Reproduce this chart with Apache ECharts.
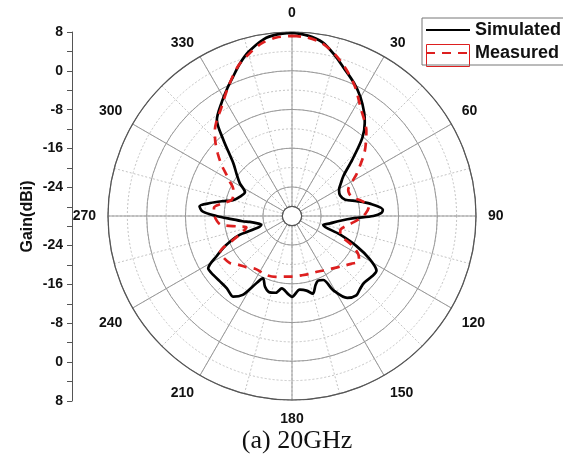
<!DOCTYPE html>
<html><head><meta charset="utf-8">
<script src="https://cdn.jsdelivr.net/npm/echarts@6/dist/echarts.min.js"></script>
<style>html,body{margin:0;padding:0;background:#fff}#c{width:563px;height:457px}</style>
</head><body><div id="c"></div>
<script>
// ---- data (angle in degrees, gain in dBi) ----
const simAngles = [0,5,10,15,19,25,30,35,38,42,47,52,56,61,67,73,77,81,86,88,90,92,96,101,106,111,115,119,123,127,133,137,141,146,151,154,158,161,165,169,174,180,183,188,192,197,201,205,209,212,216,222,228,233,238,242,246,250,254,258,262,264,267,270,273,276,279,282,285,290,297,302,307,312,318,322,328,333,337,341,345,351,355,360];
const simGain   = [7.8,7.4,6.4,4.3,2.5,0.3,-1.7,-4.0,-5.6,-8.3,-13.0,-16.5,-17.8,-18.9,-19.2,-18.5,-16.3,-13.7,-11.2,-11.5,-13.2,-17.2,-20.2,-22.0,-23.3,-19.5,-15.3,-11.7,-9.2,-9.3,-9.7,-9.4,-8.9,-9.6,-12.5,-15.3,-15.6,-15.0,-13.4,-14.3,-14.7,-13.3,-13.9,-14.9,-13.8,-13.6,-14.4,-15.8,-13.4,-10.8,-9.4,-9.9,-9.9,-9.7,-9.6,-12.4,-15.0,-18.2,-23.4,-22.7,-21.2,-19.7,-17.5,-14.4,-11.5,-10.8,-12.9,-15.3,-17.4,-18.5,-19.1,-17.3,-15.7,-13.7,-8.8,-4.8,-2.5,-0.5,1.2,3.2,5.0,7.0,7.6,7.8];
const measAngles = [0,5,10,15,20,26,33,37,41,45,49,53,57,61,65,69,73,78,83,88,92,96,101,106,110,116,120,124,129,136,143,150,156,163,171,180,187,195,203,210,215,222,228,233,238,243,248,252,256,259,263,266,270,276,280,285,290,295,299,302,306,310,314,318,322,326,333,340,345,350,355,360];
const measGain   = [7.2,7.0,6.2,4.5,2.4,-0.3,-3.8,-5.2,-6.6,-8.4,-10.2,-12.3,-14.1,-16.0,-17.2,-17.3,-16.9,-15.2,-14.0,-14.8,-15.9,-17.3,-18.8,-19.6,-19.4,-16.3,-14.2,-13.3,-14.3,-15.5,-16.4,-17.0,-17.4,-17.5,-17.6,-17.5,-17.4,-17.0,-16.7,-16.8,-16.7,-15.8,-15.0,-13.9,-13.5,-13.3,-17.0,-19.3,-20.3,-18.7,-15.2,-14.5,-14.0,-13.8,-15.3,-17.1,-17.1,-16.6,-15.3,-14.1,-12.0,-10.0,-8.0,-6.2,-4.8,-3.6,-0.6,2.8,4.6,6.2,7.0,7.2];
const angleTickLabels = [0,30,60,90,120,150,180,210,240,270,300,330];
const gainTickLabels = [8,0,-8,-16,-24];
const seriesNames = ['Simulated','Measured'];
const caption = '(a) 20GHz';
const gainMin = -28, gainMax = 8;

const simData = simAngles.map((a,i)=>[simGain[i], a]);
const measData = measAngles.map((a,i)=>[measGain[i], a]);

const FONT = 'Liberation Sans, Arial, sans-serif';
const center = [292, 216];
const radius = [9.7, 184];
const RED = '#dd1f1f';

// solid circles at -28,-24,-16,-8,0,8 ; others transparent (dotted layer shows them)
const solidCol = '#9a9a9a', none = 'rgba(0,0,0,0)';
const circleColors = [];
for (let v = gainMin; v <= gainMax; v += 4) {
  circleColors.push((v === gainMin || (v % 8 === 0)) ? solidCol : none);
}

const lblBase = {fontFamily: FONT, fontSize: 14, fontWeight: 'bold', color: '#111'};
const angleRich = {
  n: Object.assign({}, lblBase),
  u: Object.assign({padding: [0, 0, -4, 0]}, lblBase),
  t: Object.assign({padding: [2, 0, 0, 0]}, lblBase)
};
function angleLabel(v) {
  if (angleTickLabels.indexOf(v) < 0) return '';
  let k = 'n';
  if (v === 30 || v === 330) k = 'u';
  else if (v === 120 || v === 240) k = 't';
  return '{' + k + '|' + v + '}';
}

const chart = echarts.init(document.getElementById('c'));
chart.setOption({
  backgroundColor: '#fff',
  animation: false,
  title: {
    text: caption, left: 292, top: 423, textAlign: 'center',
    textStyle: {fontFamily: 'Liberation Serif, Times New Roman, serif', fontSize: 26, fontWeight: 'normal', color: '#111'}
  },
  legend: {
    orient: 'vertical', left: 422, top: 18,
    itemWidth: 44, itemHeight: 14, itemGap: 5,
    borderColor: '#777', borderWidth: 1, padding: [3, 3, 3, 3],
    textStyle: {fontSize: 18, fontWeight: 'bold', fontFamily: FONT, color: '#111'},
    data: [
      {name: seriesNames[0], itemStyle: {opacity: 0}},
      {name: seriesNames[1], itemStyle: {opacity: 0}}
    ]
  },
  graphic: [{
    type: 'rect', left: 424, top: 42,
    shape: {width: 43, height: 22},
    style: {fill: 'none', stroke: RED, lineWidth: 1}
  }],
  grid: {left: 72, top: 32, height: 369, width: 1},
  xAxis: {type: 'value', show: false, min: 0, max: 1},
  yAxis: {
    type: 'value', min: 0, max: 76, interval: 4,
    name: 'Gain(dBi)', nameLocation: 'middle', nameRotate: 90, nameGap: 36,
    nameTextStyle: {fontFamily: FONT, fontSize: 16, fontWeight: 'bold', color: '#111'},
    axisLine: {show: true, lineStyle: {color: '#555', width: 1}},
    axisTick: {show: true, length: 5, lineStyle: {color: '#555'}},
    splitLine: {show: false},
    axisLabel: {
      fontFamily: FONT, fontSize: 14, fontWeight: 'bold', color: '#111', margin: 9,
      formatter: function (v) {
        const d = Math.abs(v - 38);
        const g = d - 30;
        return gainTickLabels.indexOf(g) >= 0 ? String(g) : '';
      }
    }
  },
  polar: [
    {center: center, radius: radius},
    {center: center, radius: radius}
  ],
  angleAxis: [
    {
      polarIndex: 0, type: 'value', min: 0, max: 360, interval: 30,
      startAngle: 90, clockwise: true,
      axisLine: {show: true, lineStyle: {color: '#555', width: 1.2}},
      axisTick: {show: false},
      splitLine: {show: true, lineStyle: {color: '#999', width: 1}},
      axisLabel: {margin: 12, formatter: angleLabel, rich: angleRich, fontFamily: FONT, fontSize: 14, fontWeight: 'bold', color: '#111'},
      z: 2
    },
    {
      polarIndex: 1, type: 'value', min: 0, max: 360, interval: 15,
      startAngle: 90, clockwise: true,
      axisLine: {show: false}, axisTick: {show: false}, axisLabel: {show: false},
      splitLine: {show: true, lineStyle: {color: '#c4c4c4', width: 1, type: [2, 2]}},
      z: 1
    }
  ],
  radiusAxis: [
    {
      polarIndex: 0, type: 'value', min: gainMin, max: gainMax, interval: 4,
      axisLine: {show: false}, axisTick: {show: false}, axisLabel: {show: false},
      splitLine: {show: true, lineStyle: {color: circleColors, width: 1}},
      z: 2
    },
    {
      polarIndex: 1, type: 'value', min: gainMin, max: gainMax, interval: 4,
      axisLine: {show: false}, axisTick: {show: false}, axisLabel: {show: false},
      splitLine: {show: true, lineStyle: {color: '#c4c4c4', width: 1, type: [2, 2]}},
      z: 1
    }
  ],
  series: [
    {
      name: seriesNames[0], type: 'line', coordinateSystem: 'polar', polarIndex: 0,
      data: simData, symbol: 'none', smooth: 0.3,
      lineStyle: {color: '#000', width: 2.7}, itemStyle: {color: '#000'}, z: 5
    },
    {
      name: seriesNames[1], type: 'line', coordinateSystem: 'polar', polarIndex: 0,
      data: measData, symbol: 'none', smooth: 0.3,
      lineStyle: {color: RED, width: 2.7, type: [9, 7]}, itemStyle: {color: RED}, z: 6
    }
  ]
});
</script>
</body></html>
